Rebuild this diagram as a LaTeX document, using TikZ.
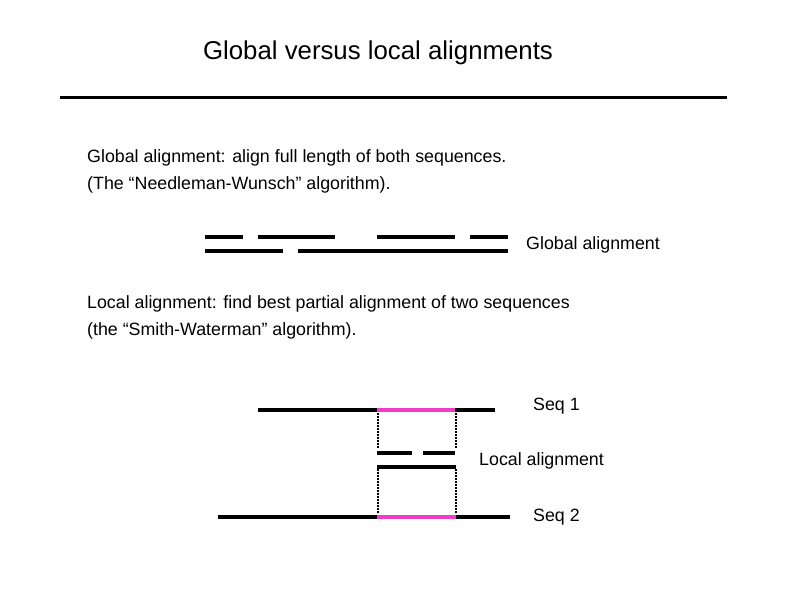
\documentclass[tikz,border=0pt]{standalone}
\usepackage{fontspec}
\setmainfont{Liberation Sans}
\begin{document}
\begin{tikzpicture}[x=1pt,y=-1pt,
  seg/.style={line width=4.5pt},
  pink/.style={line width=4.5pt,draw={rgb,255:red,240;green,60;blue,200}},
  dots/.style={line width=2pt,dash pattern=on 1.5pt off 1.5pt},
  lbl/.style={anchor=west,inner sep=0pt,font=\fontsize{17.8}{20}\selectfont}]
\useasboundingbox (0,0) rectangle (794,595);
\node[font=\fontsize{25.8}{28}\selectfont] (title) at (378,53) {Global versus local alignments};
\coordinate (r1) at (60,97); \coordinate (r2) at (727,97);
\draw[line width=3pt] (r1) -- (r2);
\node[lbl] (g1) at (87,158) {Global alignment: align full length of both sequences.};
\node[lbl] (g2) at (87,185) {(The “Needleman-Wunsch” algorithm).};
\foreach \a/\b in {205/243,258/335,377/455,470/508}{\draw[seg] (\a,237) -- (\b,237);}
\foreach \a/\b in {205/283,298/508}{\draw[seg] (\a,251) -- (\b,251);}
\node[lbl] (gl) at (526,245) {Global alignment};
\node[lbl] (l1) at (87,304) {Local alignment: find best partial alignment of two sequences};
\node[lbl] (l2) at (87,331) {(the “Smith-Waterman” algorithm).};
\draw[seg] (258,410) -- (377,410); \draw[pink] (377,410) -- (455,410); \draw[seg] (455,410) -- (495,410);
\node[lbl] (s1) at (533,406) {Seq 1};
\draw[seg] (377,453) -- (412,453); \draw[seg] (423,453) -- (455,453);
\draw[seg] (377,467) -- (456,467);
\node[lbl] (la) at (479,461) {Local alignment};
\draw[dots] (378,413) -- (378,448); \draw[dots] (456,413) -- (456,448);
\draw[dots] (378,469) -- (378,514); \draw[dots] (456,469) -- (456,514);
\draw[seg] (218,517) -- (377,517); \draw[pink] (377,517) -- (456,517); \draw[seg] (456,517) -- (510,517);
\node[lbl] (s2) at (533,517) {Seq 2};
\end{tikzpicture}
\end{document}
